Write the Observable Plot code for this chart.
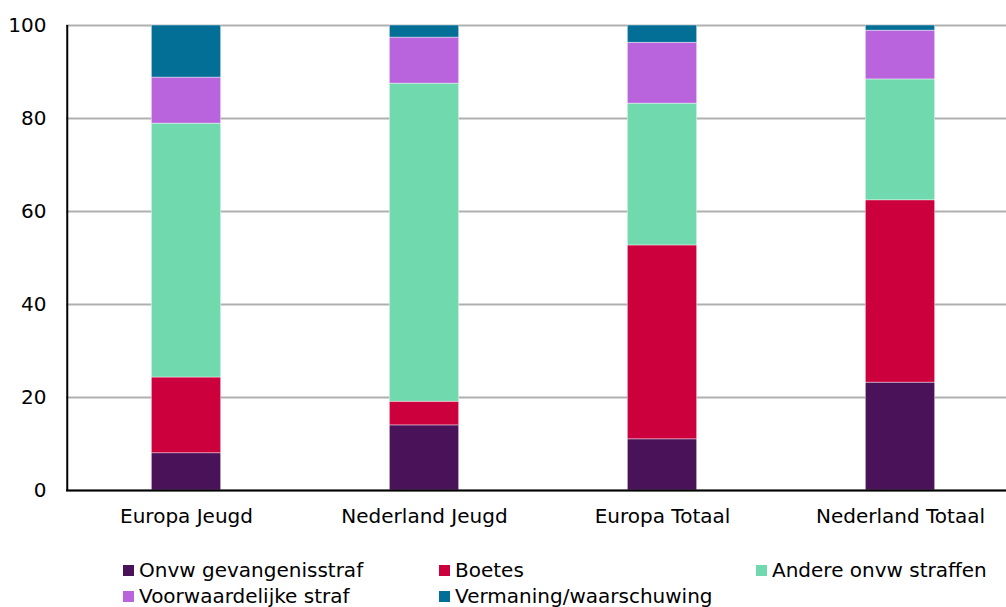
<!DOCTYPE html>
<html>
<head>
<meta charset="utf-8">
<script src="https://cdn.jsdelivr.net/npm/d3@7"></script>
<script src="https://cdn.jsdelivr.net/npm/@observablehq/plot@0.6"></script>
<style>
  html, body { margin: 0; padding: 0; background: #fff; }
  body { width: 1006px; height: 607px; overflow: hidden; font-family: "DejaVu Sans", Verdana, sans-serif; }
  #legend { position: relative; height: 67px; font-size: 20px; color: #000; }
  .item { position: absolute; display: flex; align-items: center; white-space: nowrap; line-height: 22px; }
  .sw { width: 11px; height: 11px; margin-right: 5px; }
</style>
</head>
<body>
<div id="chart"></div>
<div id="legend"></div>
<script>
const categories = ["Europa Jeugd", "Nederland Jeugd", "Europa Totaal", "Nederland Totaal"];
const series = ["Onvw gevangenisstraf", "Boetes", "Andere onvw straffen", "Voorwaardelijke straf", "Vermaning/waarschuwing"];
const colors = ["#4a1259", "#cc003d", "#70d9ae", "#b964dd", "#036f96"];
const onvw      = [8.0, 14.0, 11.0, 23.2];
const boetes    = [16.3, 5.1, 41.7, 39.2];
const andere    = [54.6, 68.4, 30.5, 26.0];
const voorw     = [9.9, 9.9, 13.1, 10.5];
const vermaning = [11.2, 2.6, 3.7, 1.1];
const yTicks = [0, 20, 40, 60, 80, 100];

const valuesBySeries = [onvw, boetes, andere, voorw, vermaning];
const data = [];
series.forEach((s, i) => categories.forEach((c, j) => data.push({cat: c, series: s, value: valuesBySeries[i][j]})));

const chart = Plot.plot({
  width: 1006,
  height: 540,
  marginLeft: 66,
  marginRight: 0,
  marginTop: 25,
  marginBottom: 50,
  style: {fontFamily: "DejaVu Sans, Verdana, sans-serif", fontSize: "20px", color: "#000", background: "#fff", overflow: "visible"},
  x: {domain: categories, range: [66, 1020], padding: 0, label: null},
  y: {domain: [0, 100], label: null},
  color: {domain: series, range: colors},
  marks: [
    Plot.gridY(yTicks, {stroke: "#b0b0b0", strokeOpacity: 1, strokeWidth: 2}),
    Plot.barY(data, {x: "cat", y: "value", fill: "series", insetLeft: 84.3, insetRight: 84.3, stroke: "white", strokeWidth: 0.6, strokeOpacity: 0.7}),
    Plot.axisY({ticks: yTicks, tickSize: 0, tickPadding: 20, label: null, fontSize: 20}),
    Plot.axisX({tickSize: 0, tickPadding: 18, label: null, fontSize: 20}),
    Plot.ruleX([categories[0]], {x: d => d, dx: -119.25, y1: 0, y2: 100, stroke: "#000", strokeWidth: 2}),
    Plot.ruleY([0], {stroke: "#000", strokeWidth: 2})
  ]
});
document.getElementById("chart").appendChild(chart);

const legend = document.getElementById("legend");
const pos = [[123, 570], [439, 570], [756, 570], [123, 596], [439, 596]];
series.forEach((s, i) => {
  const d = document.createElement("div");
  d.className = "item";
  d.style.left = pos[i][0] + "px";
  d.style.top = (pos[i][1] - 540 - 11) + "px";
  d.innerHTML = `<span class="sw" style="background:${colors[i]}"></span><span>${s}</span>`;
  legend.appendChild(d);
});
</script>
</body>
</html>
